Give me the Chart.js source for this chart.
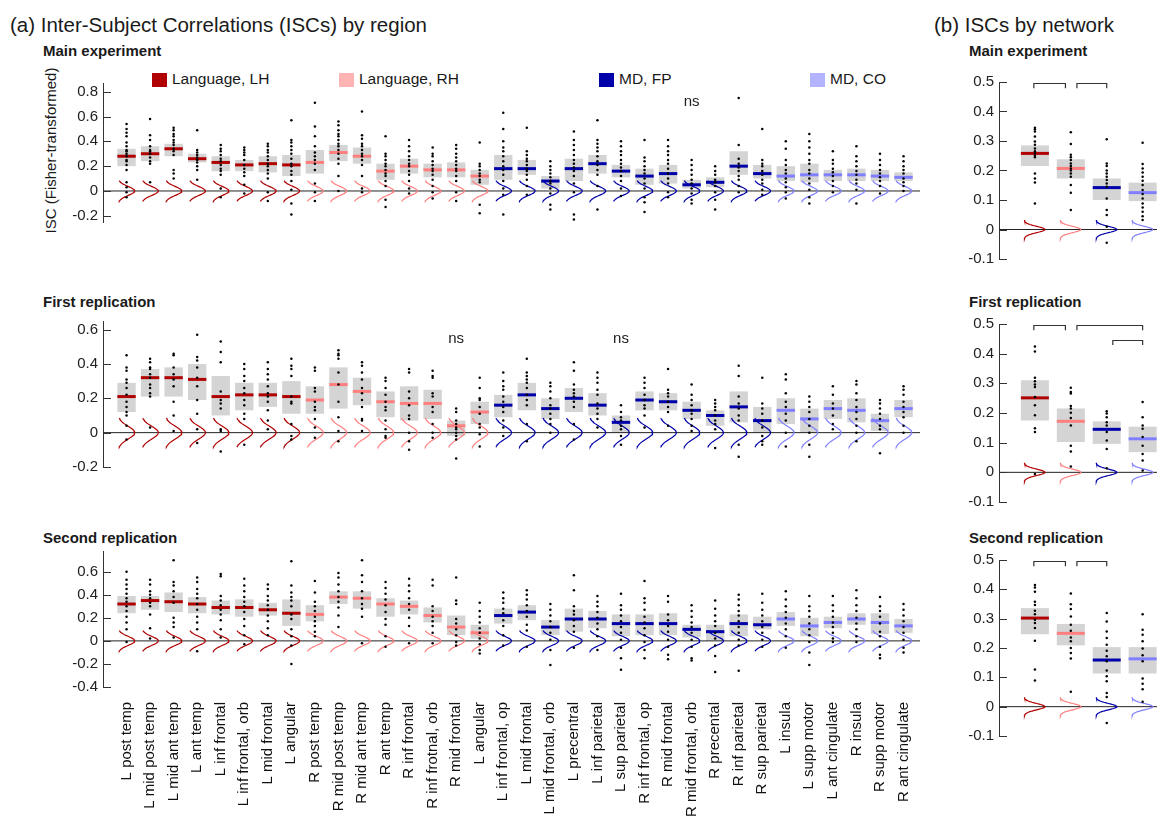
<!DOCTYPE html>
<html>
<head>
<meta charset="utf-8">
<script src="https://cdn.jsdelivr.net/npm/chart.js@4.4.1/dist/chart.umd.min.js"></script>
<style>
  body { margin: 0; background: #fff; }
  #page { position: relative; width: 1159px; height: 821px; overflow: hidden; background: #fff;
          font-family: "Liberation Sans", Arial, sans-serif; color: #1a1a1a; }
  .t { position: absolute; white-space: nowrap; line-height: 1; }
  .b { font-weight: bold; font-size: 15px; }
  .sw { position: absolute; width: 15px; height: 14px; }
  canvas { position: absolute; }
</style>
</head>
<body>
<div id="page">
  <div class="t" style="left:10px;top:15px;font-size:20.5px">(a) Inter-Subject Correlations (ISCs) by region</div>
  <div class="t" style="left:934px;top:15px;font-size:20.5px">(b) ISCs by network</div>

  <div class="t b" style="left:43px;top:43px">Main experiment</div>
  <div class="t b" style="left:43px;top:294px">First replication</div>
  <div class="t b" style="left:43px;top:530px">Second replication</div>
  <div class="t b" style="left:969px;top:43px">Main experiment</div>
  <div class="t b" style="left:969px;top:294px">First replication</div>
  <div class="t b" style="left:969px;top:530px">Second replication</div>

  <div class="t" style="left:-50px;top:143px;width:200px;text-align:center;font-size:15px;transform:rotate(-90deg)">ISC (Fisher-transformed)</div>
  <div id="legend"></div>
</div>

<script>
// ------------------------------------
// data
// ------------------------------------
const regions = [
  "L post temp", "L mid post temp", "L mid ant temp", "L ant temp", "L inf frontal",
  "L inf frontal, orb", "L mid frontal", "L angular",
  "R post temp", "R mid post temp", "R mid ant temp", "R ant temp", "R inf frontal",
  "R inf frotnal, orb", "R mid frontal", "L angular",
  "L inf frontal, op", "L mid frontal", "L mid frontal, orb", "L precentral", "L inf parietal",
  "L sup parietal", "R inf frontal, op", "R mid frontal", "R mid frontal, orb", "R precental",
  "R inf parietal", "R sup parietal",
  "L insula", "L supp motor", "L ant cingulate", "R insula", "R supp motor", "R ant cingulate"
];
const regionGroup = [0,0,0,0,0,0,0,0, 1,1,1,1,1,1,1,1, 2,2,2,2,2,2,2,2,2,2,2,2, 3,3,3,3,3,3];
const groupNames = ["Language, LH", "Language, RH", "MD, FP", "MD, CO"];
const networkGroup = [0, 1, 2, 3];

const mainTicks = [-0.2, 0, 0.2, 0.4, 0.6, 0.8];
const rep1Ticks = [-0.2, 0, 0.2, 0.4, 0.6];
const rep2Ticks = [-0.4, -0.2, 0, 0.2, 0.4, 0.6];
const netTicks = [-0.1, 0, 0.1, 0.2, 0.3, 0.4, 0.5];

// main experiment, by region
const mainMedian = [0.28,0.30,0.34,0.26,0.23,0.21,0.22,0.21, 0.23,0.31,0.28,0.16,0.20,0.17,0.17,0.12,
  0.18,0.18,0.08,0.18,0.22,0.16,0.12,0.14,0.05,0.07,0.20,0.14, 0.12,0.13,0.13,0.13,0.12,0.11];
const mainLo = [0.20,0.24,0.28,0.23,0.16,0.16,0.15,0.12, 0.14,0.24,0.22,0.09,0.14,0.11,0.11,0.05,
  0.09,0.13,0.02,0.08,0.14,0.11,0.05,0.06,0.02,0.03,0.13,0.10, 0.08,0.07,0.08,0.08,0.08,0.08];
const mainHi = [0.34,0.36,0.38,0.30,0.28,0.25,0.28,0.29, 0.33,0.37,0.35,0.22,0.26,0.22,0.23,0.17,
  0.29,0.25,0.12,0.26,0.29,0.21,0.18,0.21,0.09,0.11,0.32,0.21, 0.20,0.22,0.17,0.18,0.17,0.15];
const mainDots = [
  [0.54,0.50,0.47,0.44,0.39,0.36,0.33,0.32,0.30,0.28,0.25,0.24,0.21,0.17,0.07,0.03,-0.01,-0.05],
  [0.58,0.45,0.41,0.36,0.33,0.32,0.30,0.27,0.24,0.22,0.07],
  [0.51,0.49,0.46,0.44,0.41,0.39,0.37,0.34,0.32,0.29,0.17,0.14,0.10],
  [0.49,0.33,0.31,0.29,0.27,0.25,0.23,0.20,0.17,0.09],
  [0.37,0.34,0.32,0.29,0.26,0.24,0.21,0.18,0.16,0.13,0.02,-0.05],
  [0.35,0.33,0.31,0.29,0.25,0.21,0.18,0.15,0.12,0.05,-0.02],
  [0.38,0.36,0.33,0.31,0.28,0.25,0.22,0.20,0.17,0.14,0.10,-0.01,-0.08],
  [0.57,0.41,0.39,0.36,0.33,0.30,0.26,0.22,0.20,0.16,0.13,0.08,0.01,-0.10,-0.19],
  [0.71,0.52,0.44,0.36,0.31,0.28,0.25,0.22,0.17,0.06,-0.01,-0.08],
  [0.56,0.53,0.49,0.46,0.44,0.41,0.38,0.36,0.33,0.30,0.26,0.22,0.12,0.00],
  [0.64,0.45,0.42,0.38,0.36,0.33,0.30,0.28,0.25,0.21,0.12,0.02,-0.01],
  [0.44,0.30,0.28,0.25,0.22,0.20,0.17,0.14,0.12,0.08,0.04,-0.07,-0.13],
  [0.41,0.36,0.32,0.28,0.25,0.22,0.20,0.16,0.13,0.08,0.02,-0.02],
  [0.35,0.30,0.28,0.24,0.21,0.18,0.16,0.13,0.09,0.04,-0.01,-0.06],
  [0.37,0.34,0.30,0.27,0.24,0.21,0.18,0.16,0.12,0.08,-0.01,-0.08],
  [0.39,0.22,0.20,0.17,0.14,0.12,0.09,0.07,-0.11,-0.18],
  [0.63,0.50,0.40,0.35,0.32,0.28,0.24,0.20,0.17,0.13,0.08,0.02,-0.03,-0.19],
  [0.51,0.32,0.29,0.26,0.24,0.21,0.18,0.16,0.13,0.09,0.04,-0.03],
  [0.24,0.20,0.17,0.14,0.11,0.08,0.06,0.02,-0.02,-0.11,-0.15],
  [0.48,0.41,0.37,0.33,0.29,0.25,0.22,0.19,0.16,0.12,0.06,-0.01,-0.19,-0.23],
  [0.57,0.41,0.38,0.35,0.32,0.28,0.24,0.21,0.17,0.13,0.04,-0.15],
  [0.40,0.36,0.32,0.29,0.25,0.22,0.19,0.16,0.12,0.08,0.02,-0.04],
  [0.41,0.27,0.24,0.20,0.17,0.14,0.10,0.06,0.02,-0.05,-0.09,-0.17],
  [0.41,0.36,0.32,0.29,0.25,0.22,0.18,0.14,0.10,0.06,-0.01,-0.05],
  [0.25,0.21,0.17,0.13,0.09,0.06,0.02,-0.02,-0.07,-0.10],
  [0.20,0.16,0.13,0.09,0.07,0.04,-0.01,-0.07,-0.15],
  [0.75,0.37,0.26,0.22,0.19,0.16,0.12,0.09,0.04,-0.01],
  [0.50,0.25,0.22,0.20,0.16,0.13,0.09,0.06,0.01,-0.03],
  [0.40,0.34,0.25,0.21,0.17,0.14,0.10,0.07,0.03,-0.01,-0.06],
  [0.46,0.40,0.35,0.30,0.25,0.22,0.17,0.14,0.10,0.06,0.01,-0.05,-0.10],
  [0.32,0.25,0.22,0.18,0.15,0.12,0.08,0.04,-0.01],
  [0.36,0.28,0.24,0.20,0.16,0.13,0.09,0.06,0.01,-0.10],
  [0.30,0.25,0.21,0.17,0.14,0.11,0.08,0.04,-0.02],
  [0.28,0.24,0.20,0.17,0.14,0.10,0.07,0.04,0.00]
];

// first replication, by region
const rep1Median = [0.21,0.32,0.32,0.31,0.21,0.22,0.22,0.21, 0.19,0.28,0.24,0.18,0.17,0.17,0.04,0.12,
  0.16,0.22,0.14,0.20,0.16,0.06,0.19,0.18,0.13,0.10,0.15,0.07, 0.13,0.08,0.14,0.13,0.07,0.14];
const rep1Lo = [0.12,0.21,0.21,0.19,0.10,0.13,0.15,0.11, 0.11,0.14,0.16,0.09,0.07,0.08,-0.02,0.05,
  0.09,0.13,0.08,0.12,0.10,0.00,0.13,0.13,0.08,0.04,0.06,0.00, 0.05,0.00,0.08,0.06,0.01,0.09];
const rep1Hi = [0.29,0.37,0.38,0.40,0.33,0.29,0.29,0.30, 0.27,0.38,0.32,0.24,0.27,0.25,0.07,0.18,
  0.22,0.29,0.20,0.26,0.23,0.10,0.24,0.23,0.18,0.13,0.24,0.15, 0.20,0.14,0.19,0.20,0.11,0.19];
const rep1Dots = [
  [0.45,0.38,0.36,0.31,0.29,0.26,0.22,0.18,0.15,0.12,0.10,0.04,-0.04],
  [0.43,0.41,0.38,0.37,0.34,0.32,0.28,0.26,0.23,0.21,0.03],
  [0.46,0.45,0.38,0.34,0.31,0.27,0.18,0.10,0.01],
  [0.57,0.44,0.42,0.38,0.32,0.27,0.19,0.11,0.02,-0.06],
  [0.53,0.47,0.41,0.24,0.19,0.17,0.14,0.02,0.01,-0.11],
  [0.40,0.37,0.33,0.30,0.26,0.23,0.19,0.16,0.11,0.08,-0.07],
  [0.41,0.37,0.34,0.31,0.27,0.23,0.21,0.18,0.13,0.07,0.02],
  [0.43,0.39,0.37,0.33,0.21,0.18,0.17,0.05,-0.02,-0.04],
  [0.38,0.36,0.26,0.24,0.18,0.15,0.13,0.08,0.03,-0.03],
  [0.48,0.46,0.45,0.43,0.35,0.28,0.18,0.09,0.01,-0.05],
  [0.41,0.39,0.35,0.31,0.26,0.23,0.19,0.15,0.08,0.07,0.01],
  [0.32,0.30,0.26,0.22,0.18,0.15,0.13,0.07,0.02,-0.02,-0.03],
  [0.37,0.35,0.24,0.20,0.16,0.10,0.08,0.00,-0.05,-0.10],
  [0.36,0.33,0.32,0.23,0.21,0.15,0.12,0.05,0.00,-0.03],
  [0.14,0.12,0.07,0.05,0.03,0.02,0.00,-0.02,-0.04,-0.15],
  [0.32,0.26,0.20,0.19,0.15,0.11,0.05,0.03,-0.01,-0.08],
  [0.35,0.30,0.27,0.25,0.21,0.18,0.15,0.12,0.07,0.03,-0.02],
  [0.43,0.35,0.33,0.31,0.29,0.26,0.22,0.19,0.16,0.05,-0.05],
  [0.29,0.27,0.24,0.20,0.16,0.14,0.11,0.08,0.05,0.00],
  [0.41,0.36,0.28,0.25,0.23,0.21,0.18,0.15,0.05,-0.04],
  [0.35,0.32,0.29,0.25,0.22,0.17,0.14,0.11,0.08,0.03],
  [0.16,0.12,0.09,0.07,0.04,0.02,-0.02,-0.07],
  [0.32,0.29,0.26,0.22,0.19,0.16,0.14,0.10,0.03],
  [0.37,0.25,0.23,0.21,0.18,0.15,0.12,0.04],
  [0.28,0.22,0.19,0.16,0.13,0.11,0.08,0.04,0.01],
  [0.19,0.17,0.15,0.13,0.10,0.07,0.05,0.02,-0.09],
  [0.39,0.33,0.21,0.17,0.14,0.10,0.07,-0.07,-0.14],
  [0.32,0.17,0.14,0.11,0.07,0.03,-0.02,-0.05,-0.07],
  [0.34,0.31,0.23,0.18,0.15,0.11,0.07,0.00,-0.08],
  [0.21,0.18,0.15,0.12,0.08,0.04,0.00,-0.07,-0.14],
  [0.27,0.22,0.17,0.14,0.10,0.05,0.02],
  [0.30,0.28,0.23,0.19,0.15,0.12,0.08,0.04,0.00,-0.05],
  [0.19,0.17,0.14,0.11,0.08,0.04,0.02,-0.12],
  [0.27,0.25,0.22,0.18,0.15,0.12,0.09,0.04,0.00]
];

// second replication, by region
const rep2Median = [0.32,0.35,0.34,0.32,0.29,0.29,0.27,0.24, 0.23,0.38,0.37,0.32,0.30,0.22,0.12,0.07,
  0.22,0.25,0.12,0.19,0.19,0.15,0.15,0.15,0.10,0.08,0.15,0.14, 0.19,0.13,0.16,0.19,0.16,0.13];
const rep2Lo = [0.24,0.27,0.25,0.24,0.23,0.21,0.22,0.13, 0.17,0.32,0.28,0.21,0.23,0.16,0.05,0.02,
  0.15,0.18,0.05,0.08,0.11,0.04,0.05,0.05,0.03,0.00,0.04,0.10, 0.13,0.04,0.11,0.14,0.06,0.07];
const rep2Hi = [0.39,0.39,0.42,0.38,0.35,0.36,0.33,0.36, 0.31,0.43,0.43,0.37,0.35,0.29,0.22,0.14,
  0.28,0.31,0.18,0.28,0.26,0.23,0.23,0.24,0.14,0.14,0.23,0.21, 0.25,0.20,0.21,0.24,0.24,0.19];
const rep2Dots = [
  [0.60,0.53,0.49,0.45,0.41,0.37,0.34,0.30,0.26,0.21,0.16,0.10,-0.01],
  [0.53,0.49,0.43,0.40,0.37,0.33,0.30,0.23,0.11,0.02],
  [0.70,0.51,0.48,0.43,0.38,0.33,0.20,0.16,0.12,0.03],
  [0.55,0.51,0.45,0.41,0.37,0.32,0.27,0.21,0.16,0.10,-0.09],
  [0.58,0.56,0.39,0.35,0.31,0.27,0.23,0.18,0.10,0.03],
  [0.54,0.48,0.43,0.38,0.34,0.30,0.25,0.19,0.13,0.05,-0.03],
  [0.49,0.45,0.39,0.35,0.31,0.27,0.22,0.17,0.11,0.05],
  [0.69,0.48,0.42,0.38,0.35,0.30,0.23,0.19,0.10,0.04,-0.04,-0.20],
  [0.52,0.42,0.34,0.30,0.26,0.21,0.17,0.13,0.08,0.04],
  [0.59,0.55,0.49,0.43,0.38,0.34,0.29,0.22,0.12],
  [0.70,0.57,0.51,0.43,0.37,0.32,0.28,0.21,-0.02],
  [0.51,0.46,0.41,0.36,0.31,0.25,0.19,0.14,0.04,-0.05],
  [0.54,0.48,0.43,0.37,0.32,0.27,0.20,0.13,-0.02],
  [0.53,0.48,0.30,0.26,0.21,0.17,0.13,0.07,-0.02],
  [0.55,0.35,0.32,0.19,0.15,0.10,0.05,-0.01,-0.04],
  [0.33,0.26,0.21,0.16,0.11,0.07,0.02,-0.03,-0.08,-0.11],
  [0.42,0.37,0.33,0.28,0.24,0.18,0.13,0.05,-0.04],
  [0.44,0.40,0.36,0.31,0.26,0.21,0.14,0.09,-0.05],
  [0.32,0.27,0.22,0.17,0.12,0.07,0.01,-0.08,-0.21],
  [0.57,0.44,0.30,0.26,0.23,0.18,0.13,0.08,-0.06],
  [0.39,0.34,0.30,0.25,0.20,0.15,0.10,0.04,-0.08],
  [0.41,0.31,0.27,0.22,0.17,0.12,0.07,0.01,-0.06,-0.15,-0.25],
  [0.52,0.37,0.33,0.27,0.21,0.16,0.11,0.05,-0.01,-0.08,-0.15],
  [0.39,0.34,0.23,0.18,0.13,0.08,0.01,-0.05,-0.12,-0.16],
  [0.31,0.26,0.21,0.16,0.12,0.07,0.01,-0.05,-0.15,-0.17],
  [0.35,0.28,0.22,0.17,0.13,0.07,0.02,-0.04,-0.13,-0.27],
  [0.40,0.36,0.31,0.26,0.22,0.17,0.12,0.07,0.01,-0.04,-0.26],
  [0.41,0.33,0.27,0.22,0.17,0.12,0.07,0.01,-0.05],
  [0.43,0.36,0.30,0.25,0.20,0.15,0.10,0.04,-0.06],
  [0.39,0.30,0.26,0.21,0.15,0.10,0.05,-0.01,-0.10,-0.21],
  [0.39,0.31,0.26,0.21,0.16,0.12,0.07,0.02,-0.01],
  [0.44,0.37,0.31,0.26,0.20,0.15,0.10,0.04,-0.01],
  [0.38,0.30,0.26,0.21,0.15,0.08,0.04,-0.05,-0.12,-0.15],
  [0.32,0.27,0.22,0.17,0.12,0.07,0.01,-0.06,-0.10]
];

// by network
const netMainMedian = [0.258, 0.207, 0.142, 0.125];
const netMainLo = [0.215, 0.173, 0.100, 0.096];
const netMainHi = [0.285, 0.238, 0.173, 0.159];
const netMainDots = [
  [0.345,0.34,0.332,0.315,0.298,0.287,0.275,0.265,0.258,0.25,0.245,0.19,0.173,0.159,0.088],
  [0.33,0.29,0.253,0.245,0.236,0.224,0.215,0.207,0.2,0.19,0.179,0.151,0.125,0.066],
  [0.306,0.224,0.215,0.2,0.19,0.179,0.168,0.156,0.145,0.105,0.066,0.049,0.009,-0.045],
  [0.294,0.222,0.207,0.193,0.179,0.165,0.151,0.134,0.12,0.105,0.088,0.075,0.06,0.045,0.032]
];
const netRep1Median = [0.251, 0.172, 0.145, 0.113];
const netRep1Lo = [0.175, 0.102, 0.096, 0.068];
const netRep1Hi = [0.310, 0.215, 0.172, 0.154];
const netRep1Dots = [
  [0.424,0.407,0.319,0.307,0.296,0.288,0.254,0.226,0.192,0.149,0.136,-0.006],
  [0.285,0.271,0.266,0.224,0.215,0.201,0.183,0.158,0.09,0.07,0.02],
  [0.206,0.198,0.186,0.169,0.158,0.136,0.107,0.079,0.014],
  [0.237,0.186,0.158,0.147,0.119,0.09,0.062,0.04,0.006]
];
const netRep2Median = [0.302, 0.250, 0.159, 0.163];
const netRep2Lo = [0.247, 0.209, 0.113, 0.113];
const netRep2Hi = [0.336, 0.282, 0.203, 0.203];
const netRep2Dots = [
  [0.415,0.406,0.392,0.358,0.347,0.327,0.315,0.296,0.285,0.268,0.225,0.127,0.089],
  [0.386,0.349,0.333,0.307,0.279,0.259,0.236,0.223,0.2,0.183,0.164,0.051],
  [0.319,0.29,0.256,0.234,0.211,0.191,0.172,0.155,0.123,0.104,0.087,0.047,0.033,-0.056],
  [0.315,0.262,0.245,0.223,0.198,0.175,0.155,0.096,0.078,0.059,0.017]
];

// "ns" markers (region columns) and significance brackets (network pairs, level)
const mainNs = [25];
const rep1Ns = [15, 22];
const rep2Ns = [];
const netMainPairs = [[1, 2, 0], [2, 3, 0]];
const netRep1Pairs = [[1, 2, 0], [2, 4, 0], [3, 4, 1]];
const netRep2Pairs = [[1, 2, 0], [2, 3, 0]];

// ------------------------------------
// styles
// ------------------------------------
const FONT = '"Liberation Sans", Arial, sans-serif';
const lineColors = ["#b00000", "#ff7f7f", "#0000aa", "#7f7fff"];
const legendColors = ["#b00000", "#ffb3b3", "#0000aa", "#b3b3ff"];
Chart.defaults.font.family = FONT;

const page = document.getElementById("page");

// legend (top panel only)
const legendX = [152, 339, 599, 810];
groupNames.forEach((name, g) => {
  const sw = document.createElement("div");
  sw.className = "sw";
  sw.style.left = legendX[g] + "px";
  sw.style.top = "73px";
  sw.style.background = legendColors[g];
  page.appendChild(sw);
  const tx = document.createElement("div");
  tx.className = "t";
  tx.style.left = legendX[g] + 20 + "px";
  tx.style.top = "71px";
  tx.style.fontSize = "15.5px";
  tx.textContent = name;
  page.appendChild(tx);
});

// ------------------------------------
// drawing helpers
// ------------------------------------
function nullCurve(col, p) {
  const pts = [];
  for (let k = 0; k <= 30; k++) {
    const y = p.half - (2 * p.half * k) / 30;
    pts.push({ x: col + p.base + p.width * Math.exp(-0.5 * (y / p.sd) ** 2), y });
  }
  pts.push({ x: col, y: null });
  return pts;
}

const extras = {
  id: "extras",
  afterDraw(chart, args, o) {
    const { ctx, chartArea: a, scales: { x, y } } = chart;
    ctx.save();
    ctx.strokeStyle = "#333";
    ctx.lineWidth = 1;
    o.ticks.forEach((v) => {
      const py = Math.round(y.getPixelForValue(v)) + 0.5;
      ctx.beginPath();
      ctx.moveTo(a.left, py);
      ctx.lineTo(a.left + 8, py);
      ctx.stroke();
    });
    ctx.fillStyle = "#222";
    ctx.font = "15px " + FONT;
    ctx.textAlign = "center";
    (o.ns || []).forEach((c) => {
      ctx.fillText("ns", x.getPixelForValue(c), y.getPixelForValue(o.nsY));
    });
    ctx.lineWidth = 1.2;
    (o.pairs || []).forEach(([p, q, level]) => {
      const x0 = x.getPixelForValue(p === 1 ? p - 0.03 : p + 0.17);
      const x1 = x.getPixelForValue(p === 1 ? q - 0.15 : q);
      const top = level ? 0.447 : 0.497;
      const yt = Math.round(y.getPixelForValue(top)) + 0.5;
      const yb = y.getPixelForValue(top - 0.018);
      ctx.beginPath();
      ctx.moveTo(x0, yb);
      ctx.lineTo(x0, yt);
      ctx.lineTo(x1, yt);
      ctx.lineTo(x1, yb);
      ctx.stroke();
    });
    ctx.restore();
  }
};

function addPanel(box, opt) {
  const padL = 70, padT = 20, padR = 20;
  const axisH = opt.labels ? 134 : 0;
  const padB = opt.labels ? 0 : 20;
  const w = box.r - box.l + padL + padR;
  const h = box.b - box.t + padT + padB + axisH;
  const cv = document.createElement("canvas");
  cv.width = w;
  cv.height = h;
  cv.style.left = box.l - padL + "px";
  cv.style.top = box.t - padT + "px";
  cv.style.width = w + "px";
  cv.style.height = h + "px";
  page.appendChild(cv);

  const halfBox = (c) => {
    const s = c.chart.scales.x;
    return 0.39 * (s.getPixelForValue(1) - s.getPixelForValue(0));
  };

  const datasets = [
    {
      type: "line", order: 0, showLine: false,
      data: opt.dots.flatMap((list, i) => list.map((v) => ({ x: i + 1, y: v }))),
      pointRadius: 1.25, pointBackgroundColor: "#000", pointBorderWidth: 0
    },
    {
      type: "line", order: 1, showLine: false,
      data: opt.median.map((v, i) => ({ x: i + 1, y: v })),
      pointStyle: "line", pointRadius: halfBox, pointBorderWidth: 3,
      pointBorderColor: opt.groups.map((g) => lineColors[g]),
      pointBackgroundColor: opt.groups.map((g) => lineColors[g])
    }
  ];
  lineColors.forEach((c, g) => {
    const data = [];
    opt.groups.forEach((gg, i) => { if (gg === g) data.push(...nullCurve(i + 1, opt.nullShape)); });
    datasets.push({ type: "line", order: 2, data, borderColor: c, borderWidth: 1.2, pointRadius: 0 });
  });
  datasets.push({
    type: "line", order: 3, data: [{ x: 0, y: 0 }, { x: opt.xMax, y: 0 }],
    borderColor: "#222", borderWidth: 1, pointRadius: 0
  });
  datasets.push({
    type: "bar", order: 4,
    data: opt.lo.map((v, i) => ({ x: i + 1, y: [v, opt.hi[i]] })),
    backgroundColor: "#d4d4d4", borderWidth: 0,
    barPercentage: 0.78, categoryPercentage: 1
  });

  new Chart(cv, {
    type: "bar",
    data: { datasets },
    options: {
      responsive: false,
      animation: false,
      devicePixelRatio: 1,
      events: [],
      layout: { padding: { left: 0, top: padT, right: padR, bottom: padB } },
      plugins: {
        legend: { display: false },
        tooltip: { enabled: false },
        extras: { ticks: opt.ticks, ns: opt.ns, nsY: opt.nsY, pairs: opt.pairs }
      },
      scales: {
        x: {
          type: "linear", min: 0, max: opt.xMax, offset: false,
          display: !!opt.labels,
          afterBuildTicks: (s) => { s.ticks = opt.groups.map((_, i) => ({ value: i + 1 })); },
          afterFit: (s) => { if (opt.labels) s.height = axisH; },
          grid: { display: false, drawTicks: false },
          border: { display: false },
          ticks: {
            autoSkip: false, minRotation: 90, maxRotation: 90, padding: 15,
            color: "#111", font: { size: 15 },
            callback: (v) => (opt.labels ? opt.labels[Math.round(v) - 1] : "")
          }
        },
        y: {
          min: opt.yMin, max: opt.yMax,
          afterFit: (s) => { s.width = padL; },
          afterBuildTicks: (s) => { s.ticks = opt.ticks.map((v) => ({ value: v })); },
          grid: { display: false, drawTicks: false },
          border: { display: true, color: "#333", width: 1 },
          ticks: { padding: 5, color: "#222", font: { size: 15 } }
        }
      }
    },
    plugins: [extras]
  });
}

// ------------------------------------
// panels
// ------------------------------------
const regionNull = (half) => ({ half, sd: half / 2.3, base: -0.36, width: 0.71 });
const netNull = { half: 0.032, sd: 0.032 / 3, base: -0.3, width: 0.58 };

addPanel({ l: 103, r: 920, t: 83, b: 222 }, {
  xMax: 34.7, yMin: -0.25, yMax: 0.87, ticks: mainTicks, groups: regionGroup,
  median: mainMedian, lo: mainLo, hi: mainHi, dots: mainDots,
  nullShape: regionNull(0.083), ns: mainNs, nsY: 0.683
});
addPanel({ l: 103, r: 920, t: 321, b: 467 }, {
  xMax: 34.7, yMin: -0.2, yMax: 0.65, ticks: rep1Ticks, groups: regionGroup,
  median: rep1Median, lo: rep1Lo, hi: rep1Hi, dots: rep1Dots,
  nullShape: regionNull(0.085), ns: rep1Ns, nsY: 0.523
});
addPanel({ l: 103, r: 920, t: 551, b: 687 }, {
  xMax: 34.7, yMin: -0.4, yMax: 0.78, ticks: rep2Ticks, groups: regionGroup,
  median: rep2Median, lo: rep2Lo, hi: rep2Hi, dots: rep2Dots,
  nullShape: regionNull(0.09), ns: rep2Ns, nsY: 0.5, labels: regions
});

addPanel({ l: 999, r: 1157, t: 82, b: 259 }, {
  xMax: 4.4, yMin: -0.1, yMax: 0.5, ticks: netTicks, groups: networkGroup,
  median: netMainMedian, lo: netMainLo, hi: netMainHi, dots: netMainDots,
  nullShape: netNull, pairs: netMainPairs
});
addPanel({ l: 999, r: 1157, t: 324, b: 502 }, {
  xMax: 4.4, yMin: -0.1, yMax: 0.5, ticks: netTicks, groups: networkGroup,
  median: netRep1Median, lo: netRep1Lo, hi: netRep1Hi, dots: netRep1Dots,
  nullShape: netNull, pairs: netRep1Pairs
});
addPanel({ l: 999, r: 1157, t: 560, b: 736 }, {
  xMax: 4.4, yMin: -0.1, yMax: 0.5, ticks: netTicks, groups: networkGroup,
  median: netRep2Median, lo: netRep2Lo, hi: netRep2Hi, dots: netRep2Dots,
  nullShape: netNull, pairs: netRep2Pairs
});
</script>
</body>
</html>
